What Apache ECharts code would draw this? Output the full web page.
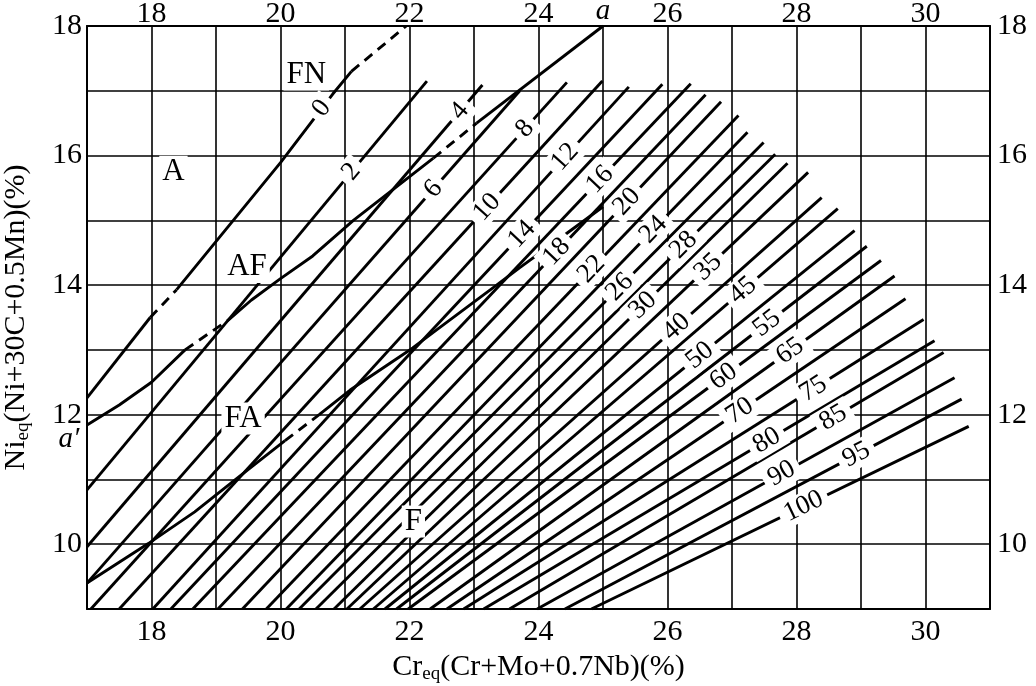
<!DOCTYPE html>
<html>
<head>
<meta charset="utf-8">
<title>WRC-1992</title>
<script src="https://cdn.jsdelivr.net/npm/echarts@6/dist/echarts.min.js"></script>
<style>
  html, body { margin: 0; padding: 0; background: #fff; }
  #chart { width: 1036px; height: 686px; }
</style>
</head>
<body>
<div id="chart"></div>
<script>
  // tick labels
  const xTickLabels = [18, 20, 22, 24, 26, 28, 30];
  const yTickLabels = [10, 12, 14, 16, 18];

  // iso ferrite number lines: lower-left start, upper-right end, x of the inline label
  const fnValues = [0, 2, 4, 6, 8, 10, 12, 14, 16, 18, 20, 22, 24, 26, 28, 30, 35, 40, 45, 50, 55, 60, 65, 70, 75, 80, 85, 90, 95, 100];
  const fnStart = [[17, 12.26], [17, 10.84], [17, 9.96], [17, 9.4], [17.06, 9], [17.5, 9], [18.02, 9], [18.3, 9], [18.64, 9], [19.03, 9],
    [19.41, 9], [19.78, 9], [20.09, 9], [20.29, 9], [20.55, 9], [20.83, 9], [21.03, 9], [21.23, 9], [21.44, 9], [21.62, 9],
    [21.8, 9], [21.98, 9], [22.32, 9], [22.58, 9], [22.84, 9], [23.15, 9], [23.55, 9], [23.98, 9], [24.41, 9], [24.82, 9]];
  const fnEnd = [[21.1, 17.3], [22.27, 17.15], [23.13, 17.09], [23.71, 17.0], [24.44, 17.13], [24.99, 17.15], [25.4, 17.06], [25.92, 17.1], [26.36, 17.11], [26.59, 16.94],
    [26.83, 16.83], [27.1, 16.62], [27.24, 16.36], [27.49, 16.2], [27.67, 16.02], [27.86, 15.88], [28.18, 15.74], [28.39, 15.35], [28.64, 15.18], [28.9, 14.84],
    [29.09, 14.6], [29.31, 14.38], [29.52, 14.14], [29.69, 13.79], [29.97, 13.47], [30.14, 13.14], [30.28, 12.96], [30.45, 12.57], [30.56, 12.24], [30.67, 11.82]];
  const fnLabelX = [20.64, 21.1, 22.78, 22.37, 23.79, 23.2, 24.41, 23.74, 24.95, 24.28,
    25.37, 24.82, 25.78, 25.26, 26.25, 25.62, 26.63, 26.14, 27.17, 26.5,
    27.54, 26.87, 27.9, 27.12, 28.26, 27.54, 28.57, 27.77, 28.93, 28.11];

  // the 0 FN line (A / AF boundary) with its broken parts
  const zeroSolid1 = [[17, 12.26], [17.98, 13.5]];
  const zeroDash1 = [[17.98, 13.5], [18.39, 13.93]];
  const zeroSolid2 = [[18.39, 13.93], [20, 15.89], [20.81, 16.95], [21.1, 17.3]];
  const zeroDash2 = [[21.1, 17.3], [21.95, 18]];

  // line a - a' (AF / FA boundary)
  const aSolid1 = [[17, 11.84], [17.5, 12.15], [18, 12.5], [18.52, 13.0]];
  const aDash1 = [[18.52, 13.0], [19.19, 13.46]];
  const aSolid2 = [[19.19, 13.46], [19.55, 13.77], [20, 14.1], [20.5, 14.45], [21.13, 15.0], [22.37, 15.96]];
  const aDash2 = [[22.37, 15.96], [23.04, 16.5]];
  const aSolid3 = [[23.04, 16.5], [25, 18]];

  // FA / F boundary
  const fSolid1 = [[17, 9.4], [17.95, 10.01], [18.67, 10.5], [19.29, 10.99], [20.07, 11.6]];
  const fDash = [[20.07, 11.6], [20.6, 12.0]];
  const fSolid2 = [[20.6, 12.0], [21.08, 12.38], [22.05, 13.03], [22.42, 13.31], [23.35, 14.0], [23.71, 14.27], [24.44, 14.8], [25.0, 15.21]];

  // region names and the a, a' marks
  const regionNames = ['A', 'AF', 'FA', 'F', 'FN'];
  const regionPos = [[18.34, 15.75], [19.48, 14.28], [19.42, 11.94], [22.06, 10.35], [20.4, 17.25]];
  const markNames = ['a', 'a\u2032'];
  const markPos = [[25, 18.22], [16.72, 11.62]];

  const serif = 'Liberation Serif, Times New Roman, serif';
  const chart = echarts.init(document.getElementById('chart'));
  // px per unit ratio (grid 903 x 583 for 14 x 9 units)
  const aspect = (583 / 9) / (903 / 14);

  function lineSeries(points, dashed) {
    return {
      type: 'line',
      data: points,
      symbol: 'none',
      silent: true,
      z: 3,
      lineStyle: { color: '#000', width: 2.9, type: dashed ? [10, 7] : 'solid', cap: 'butt' }
    };
  }

  function pointOn(points, x) {
    for (let i = 0; i < points.length - 1; i++) {
      const p = points[i], q = points[i + 1];
      if (x >= p[0] && x <= q[0] || i === points.length - 2) {
        const s = (q[1] - p[1]) / (q[0] - p[0]);
        return { y: p[1] + s * (x - p[0]), slope: s };
      }
    }
  }

  const series = [];
  const zeroLine = zeroSolid1.concat(zeroSolid2);
  series.push(lineSeries(zeroSolid1), lineSeries(zeroDash1, true), lineSeries(zeroSolid2), lineSeries(zeroDash2, true));
  for (let i = 1; i < fnValues.length; i++) {
    series.push(lineSeries([fnStart[i], fnEnd[i]]));
  }
  series.push(lineSeries(aSolid1), lineSeries(aDash1, true), lineSeries(aSolid2), lineSeries(aDash2, true), lineSeries(aSolid3));
  series.push(lineSeries(fSolid1), lineSeries(fDash, true), lineSeries(fSolid2));

  // inline FN labels
  const fnLabels = fnValues.map((v, i) => {
    const pts = i === 0 ? zeroLine : [fnStart[i], fnEnd[i]];
    const p = pointOn(pts, fnLabelX[i]);
    const angle = Math.atan(p.slope * aspect) * 180 / Math.PI;
    return { name: String(v), value: [fnLabelX[i], p.y], label: { rotate: angle } };
  });
  series.push({
    type: 'scatter',
    symbolSize: 0,
    silent: true,
    z: 6,
    itemStyle: { opacity: 1 },
    data: fnLabels,
    label: {
      show: true,
      position: 'inside',
      formatter: p => p.name,
      fontFamily: serif,
      fontSize: 27,
      color: '#000',
      opacity: 1,
      backgroundColor: '#fff',
      padding: [0, 6, 0, 6]
    }
  });

  series.push({
    type: 'scatter',
    symbolSize: 0,
    silent: true,
    z: 6,
    itemStyle: { opacity: 1 },
    data: regionNames.map((n, i) => ({ name: n, value: regionPos[i] })),
    label: {
      show: true,
      position: 'inside',
      formatter: p => p.name,
      fontFamily: serif,
      fontSize: 31,
      color: '#000',
      opacity: 1,
      backgroundColor: '#fff',
      padding: [1, 3, 0, 3]
    }
  });

  series.push({
    type: 'scatter',
    symbolSize: 0,
    silent: true,
    clip: false,
    z: 6,
    itemStyle: { opacity: 1 },
    data: markNames.map((n, i) => ({ name: n, value: markPos[i] })),
    label: {
      show: true,
      position: 'inside',
      formatter: p => p.name,
      fontFamily: serif,
      fontStyle: 'italic',
      fontSize: 29,
      color: '#000',
      opacity: 1
    }
  });

  const axisBase = {
    type: 'value',
    interval: 1,
    axisLine: { show: true, onZero: false, lineStyle: { color: '#000', width: 2 } },
    axisTick: { show: false },
    splitLine: { show: true, lineStyle: { color: '#000', width: 1.6 } }
  };
  const tickStyle = { color: '#000', fontFamily: serif, fontSize: 30 };
  const nameRich = {
    t: { fontFamily: serif, fontSize: 30, color: '#000' },
    s: { fontFamily: serif, fontSize: 19, color: '#000', padding: [14, 0, 0, 0] }
  };

  const option = {
    animation: false,
    backgroundColor: '#fff',
    grid: { left: 87, right: 46, top: 26, bottom: 77, containLabel: false, outerBoundsMode: 'none' },
    xAxis: [
      Object.assign({}, axisBase, {
        min: 17, max: 31, position: 'bottom',
        name: '{t|Cr}{s|eq}{t|(Cr+Mo+0.7Nb)(%)}',
        nameLocation: 'middle', nameGap: 37,
        nameTextStyle: { rich: nameRich },
        axisLabel: Object.assign({ margin: 8, formatter: v => xTickLabels.includes(v) ? String(v) : '' }, tickStyle)
      }),
      Object.assign({}, axisBase, {
        min: 17, max: 31, position: 'top',
        splitLine: { show: false },
        axisLabel: Object.assign({ margin: -3, formatter: v => xTickLabels.includes(v) ? String(v) : '' }, tickStyle)
      })
    ],
    yAxis: [
      Object.assign({}, axisBase, {
        min: 9, max: 18, position: 'left',
        name: '{t|Ni}{s|eq}{t|(Ni+30C+0.5Mn)(%)}',
        nameLocation: 'middle', nameGap: 54, nameRotate: 90,
        nameTextStyle: { rich: nameRich },
        axisLabel: Object.assign({ margin: 5, formatter: v => yTickLabels.includes(v) ? String(v) : '' }, tickStyle)
      }),
      Object.assign({}, axisBase, {
        min: 9, max: 18, position: 'right',
        splitLine: { show: false },
        axisLabel: Object.assign({ margin: 7, formatter: v => yTickLabels.includes(v) ? String(v) : '' }, tickStyle)
      })
    ],
    series: series
  };
  chart.setOption(option);
</script>
</body>
</html>
